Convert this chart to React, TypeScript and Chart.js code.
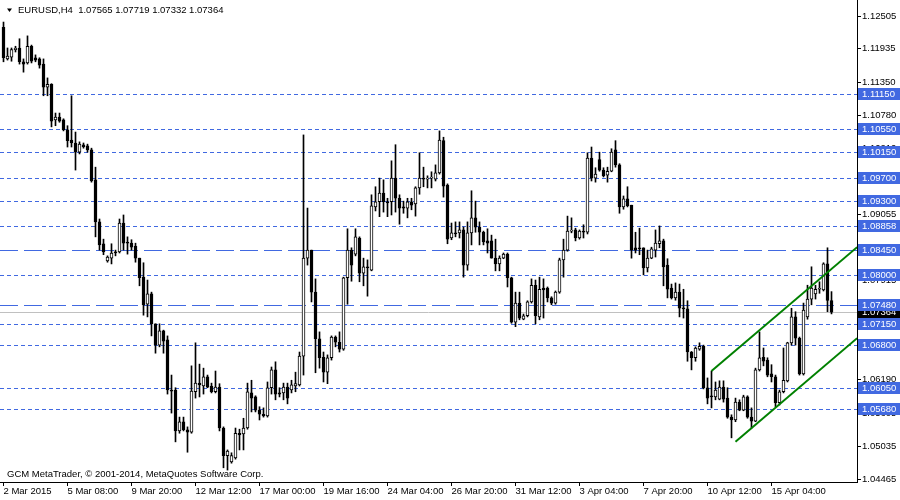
import React, { useEffect, useRef } from "react";
import { Chart, registerables } from "chart.js";

Chart.register(...registerables);

// ---- EURUSD H4 candles (open / high / low / close), bar index 0..207 ----
const opens = [
  1.1231, 1.1176, 1.1179, 1.1192, 1.1195, 1.1171, 1.1169, 1.1198, 1.1178, 1.1176,
  1.1167, 1.1127, 1.1132, 1.1070, 1.1075, 1.1070, 1.1053, 1.1035, 1.1030, 1.1014,
  1.1027, 1.1025, 1.1018, 1.0966, 1.0893, 1.0855, 1.0825, 1.0830, 1.0841, 1.0841,
  1.0891, 1.0858, 1.0856, 1.0851, 1.0830, 1.0797, 1.0750, 1.0768, 1.0716, 1.0679,
  1.0704, 1.0688, 1.0601, 1.0601, 1.0530, 1.0546, 1.0532, 1.0528, 1.0598, 1.0613,
  1.0608, 1.0624, 1.0608, 1.0598, 1.0606, 1.0535, 1.0487, 1.0476, 1.0483, 1.0526,
  1.0525, 1.0535, 1.0596, 1.0589, 1.0566, 1.0559, 1.0556, 1.0605, 1.0636, 1.0596,
  1.0596, 1.0606, 1.0601, 1.0608, 1.0610, 1.0660, 1.0830, 1.0844, 1.0771, 1.0690,
  1.0658, 1.0632, 1.0657, 1.0693, 1.0684, 1.0672, 1.0796, 1.0844, 1.0837, 1.0865,
  1.0804, 1.0815, 1.0809, 1.0919, 1.0928, 1.0943, 1.0928, 1.0928, 1.0969, 1.0934,
  1.0919, 1.0917, 1.0928, 1.0924, 1.0952, 1.0969, 1.0967, 1.0969, 1.0967, 1.0978,
  1.1034, 1.0957, 1.0865, 1.0874, 1.0874, 1.0879, 1.0818, 1.0874, 1.0900, 1.0884,
  1.0875, 1.0860, 1.0860, 1.0830, 1.0820, 1.0830, 1.0837, 1.0796, 1.0719, 1.0752,
  1.0724, 1.0730, 1.0754, 1.0783, 1.0728, 1.0778, 1.0778, 1.0761, 1.0752, 1.0771,
  1.0827, 1.0844, 1.0877, 1.0879, 1.0865, 1.0877, 1.0875, 1.1004, 1.0969, 1.1001,
  1.0983, 1.0974, 1.0981, 1.1018, 1.0992, 1.0919, 1.0933, 1.0922, 1.0848, 1.0848,
  1.0848, 1.0813, 1.0830, 1.0844, 1.0855, 1.0860, 1.0818, 1.0778, 1.0761, 1.0771,
  1.0743, 1.0742, 1.0667, 1.0657, 1.0672, 1.0677, 1.0605, 1.0591, 1.0589, 1.0585,
  1.0606, 1.0587, 1.0554, 1.0549, 1.0580, 1.0566, 1.0589, 1.0554, 1.0547, 1.0636,
  1.0658, 1.0653, 1.0629, 1.0624, 1.0579, 1.0598, 1.0617, 1.0683, 1.0728, 1.0691,
  1.0629, 1.0728, 1.0759, 1.0768, 1.0776, 1.0775, 1.0820, 1.07565,
];

const highs = [
  1.1240, 1.1195, 1.1195, 1.1198, 1.1211, 1.1176, 1.1216, 1.1200, 1.1183, 1.1178,
  1.1176, 1.1143, 1.1133, 1.1082, 1.1082, 1.1072, 1.1060, 1.1112, 1.1049, 1.1032,
  1.1030, 1.1028, 1.1021, 1.0988, 1.0898, 1.0863, 1.0834, 1.0855, 1.0844, 1.0898,
  1.0905, 1.0867, 1.0862, 1.0856, 1.0830, 1.0822, 1.0792, 1.0771, 1.0716, 1.0716,
  1.0705, 1.0695, 1.0627, 1.0605, 1.0554, 1.0554, 1.0537, 1.0643, 1.0683, 1.0646,
  1.0639, 1.0627, 1.0613, 1.0634, 1.0612, 1.0537, 1.0497, 1.0492, 1.0535, 1.0533,
  1.0552, 1.0613, 1.0618, 1.0591, 1.0572, 1.0570, 1.0615, 1.0641, 1.0650, 1.0605,
  1.0613, 1.0613, 1.0618, 1.0632, 1.0667, 1.1044, 1.0917, 1.0844, 1.0794, 1.0702,
  1.0667, 1.0662, 1.0695, 1.0695, 1.0702, 1.0797, 1.0881, 1.0848, 1.0881, 1.0867,
  1.0830, 1.0827, 1.0940, 1.0954, 1.0969, 1.0966, 1.0934, 1.0999, 1.1027, 1.0940,
  1.0929, 1.0934, 1.0934, 1.0954, 1.1013, 1.0988, 1.0973, 1.0980, 1.0992, 1.1051,
  1.1040, 1.0959, 1.0891, 1.0893, 1.0893, 1.0884, 1.0893, 1.0947, 1.0929, 1.0893,
  1.0877, 1.0881, 1.0870, 1.0863, 1.0834, 1.0839, 1.0839, 1.0797, 1.0771, 1.0771,
  1.0733, 1.0756, 1.0794, 1.0792, 1.0797, 1.0794, 1.0780, 1.0763, 1.0773, 1.0830,
  1.0863, 1.0903, 1.0900, 1.0882, 1.0879, 1.0888, 1.1013, 1.1023, 1.0987, 1.1014,
  1.0987, 1.0988, 1.1020, 1.1034, 1.0994, 1.0938, 1.0954, 1.0922, 1.0875, 1.0882,
  1.0848, 1.0844, 1.0849, 1.0879, 1.0886, 1.0863, 1.0829, 1.0785, 1.0787, 1.0785,
  1.0776, 1.0756, 1.0668, 1.0676, 1.0683, 1.0679, 1.0622, 1.0634, 1.0615, 1.0617,
  1.0617, 1.0605, 1.0558, 1.0587, 1.0584, 1.0592, 1.0591, 1.0570, 1.0639, 1.0702,
  1.0674, 1.0657, 1.0645, 1.0627, 1.0601, 1.0674, 1.0684, 1.0743, 1.0737, 1.0693,
  1.0752, 1.0783, 1.0815, 1.0783, 1.0789, 1.0822, 1.0848, 1.07719,
];

const lows = [
  1.1171, 1.1174, 1.1172, 1.1188, 1.1167, 1.1153, 1.1167, 1.1169, 1.1171, 1.1160,
  1.1112, 1.1112, 1.1058, 1.1060, 1.1066, 1.1051, 1.1023, 1.1023, 1.0983, 1.1011,
  1.1021, 1.1014, 1.0962, 1.0867, 1.0844, 1.0836, 1.0823, 1.0820, 1.0834, 1.0839,
  1.0844, 1.0837, 1.0844, 1.0823, 1.0782, 1.0731, 1.0728, 1.0695, 1.0665, 1.0676,
  1.0665, 1.0594, 1.0561, 1.0511, 1.0526, 1.0530, 1.0493, 1.0526, 1.0587, 1.0589,
  1.0594, 1.0605, 1.0596, 1.0596, 1.0530, 1.0466, 1.0462, 1.0474, 1.0481, 1.0497,
  1.0497, 1.0533, 1.0563, 1.0563, 1.0549, 1.0554, 1.0554, 1.0594, 1.0584, 1.0589,
  1.0584, 1.0577, 1.0596, 1.0598, 1.0608, 1.0627, 1.0818, 1.0754, 1.0631, 1.0639,
  1.0615, 1.0612, 1.0653, 1.0676, 1.0667, 1.0670, 1.0750, 1.0790, 1.0834, 1.0789,
  1.0782, 1.0764, 1.0808, 1.0912, 1.0902, 1.0910, 1.0902, 1.0905, 1.0910, 1.0889,
  1.0908, 1.0900, 1.0914, 1.0903, 1.0941, 1.0954, 1.0952, 1.0952, 1.0964, 1.0976,
  1.0936, 1.0855, 1.0862, 1.0867, 1.0865, 1.0797, 1.0809, 1.0853, 1.0875, 1.0853,
  1.0853, 1.0839, 1.0830, 1.0808, 1.0808, 1.0829, 1.0780, 1.0717, 1.0711, 1.0723,
  1.0723, 1.0728, 1.0752, 1.0716, 1.0723, 1.0726, 1.0754, 1.0749, 1.0750, 1.0769,
  1.0797, 1.0842, 1.0874, 1.0860, 1.0863, 1.0865, 1.0872, 1.0964, 1.0962, 1.0981,
  1.0971, 1.0962, 1.0980, 1.0988, 1.0908, 1.0915, 1.0919, 1.0830, 1.0839, 1.0836,
  1.0801, 1.0806, 1.0829, 1.0832, 1.0848, 1.0782, 1.0761, 1.0759, 1.0757, 1.0728,
  1.0726, 1.0651, 1.0636, 1.0651, 1.0670, 1.0603, 1.0577, 1.0570, 1.0584, 1.0584,
  1.0580, 1.0552, 1.0518, 1.0546, 1.0565, 1.0565, 1.0552, 1.0535, 1.0546, 1.0634,
  1.0643, 1.0624, 1.0615, 1.0572, 1.0575, 1.0596, 1.0615, 1.0679, 1.0679, 1.0627,
  1.0627, 1.0724, 1.0749, 1.0759, 1.0769, 1.0773, 1.0737, 1.07332,
];

const closes = [
  1.1178, 1.1181, 1.1192, 1.1195, 1.1171, 1.1167, 1.1198, 1.1172, 1.1174, 1.1165,
  1.1127, 1.1132, 1.1068, 1.1075, 1.1068, 1.1053, 1.1034, 1.1030, 1.1014, 1.1028,
  1.1023, 1.1018, 1.0964, 1.0893, 1.0853, 1.0841, 1.0832, 1.0839, 1.0839, 1.0891,
  1.0856, 1.0856, 1.0849, 1.0830, 1.0796, 1.0749, 1.0768, 1.0716, 1.0679, 1.0704,
  1.0686, 1.0601, 1.0599, 1.0530, 1.0546, 1.0532, 1.0528, 1.0599, 1.0613, 1.0610,
  1.0624, 1.0606, 1.0598, 1.0606, 1.0535, 1.0487, 1.0495, 1.0487, 1.0526, 1.0523,
  1.0535, 1.0598, 1.0587, 1.0566, 1.0559, 1.0556, 1.0605, 1.0636, 1.0594, 1.0594,
  1.0606, 1.0587, 1.0610, 1.0612, 1.0660, 1.0830, 1.0844, 1.0771, 1.0690, 1.0657,
  1.0632, 1.0657, 1.0693, 1.0684, 1.0672, 1.0796, 1.0844, 1.0818, 1.0867, 1.0804,
  1.0815, 1.0813, 1.0921, 1.0928, 1.0943, 1.0928, 1.0926, 1.0969, 1.0934, 1.0917,
  1.0917, 1.0928, 1.0922, 1.0952, 1.0969, 1.0967, 1.0969, 1.0970, 1.0978, 1.1035,
  1.0955, 1.0863, 1.0874, 1.0872, 1.0879, 1.0818, 1.0874, 1.0900, 1.0884, 1.0875,
  1.0858, 1.0856, 1.0830, 1.0820, 1.0830, 1.0837, 1.0796, 1.0719, 1.0752, 1.0726,
  1.0730, 1.0754, 1.0783, 1.0730, 1.0776, 1.0775, 1.0761, 1.0752, 1.0771, 1.0827,
  1.0844, 1.0877, 1.0878, 1.0865, 1.0877, 1.0875, 1.1004, 1.0969, 1.0976, 1.0983,
  1.0973, 1.0981, 1.1014, 1.0992, 1.0919, 1.0933, 1.0921, 1.0844, 1.0844, 1.0846,
  1.0813, 1.0830, 1.0846, 1.0856, 1.0860, 1.0815, 1.0776, 1.0761, 1.0771, 1.0743,
  1.0742, 1.0667, 1.0657, 1.0674, 1.0677, 1.0605, 1.0587, 1.0589, 1.0601, 1.0606,
  1.0585, 1.0554, 1.0549, 1.0580, 1.0566, 1.0589, 1.0554, 1.0547, 1.0636, 1.0657,
  1.0651, 1.0627, 1.0624, 1.0579, 1.0598, 1.0618, 1.0683, 1.0728, 1.0691, 1.0629,
  1.0740, 1.0759, 1.0778, 1.0776, 1.0777, 1.0820, 1.07565, 1.07364,
];

// ---- axis labels ----
const dateLabels = [
  "2 Mar 2015", "5 Mar 08:00", "9 Mar 20:00", "12 Mar 12:00", "17 Mar 00:00",
  "19 Mar 16:00", "24 Mar 04:00", "26 Mar 20:00", "31 Mar 12:00", "3 Apr 04:00",
  "7 Apr 20:00", "10 Apr 12:00", "15 Apr 04:00",
];
const dateTickBars = [0, 16, 32, 48, 64, 80, 96, 112, 128, 144, 160, 176, 192];
const priceTicks = [
  1.12505, 1.11935, 1.1135, 1.1078, 1.1021, 1.09625, 1.09055, 1.08485,
  1.07915, 1.07345, 1.06775, 1.0619, 1.05605, 1.05035, 1.04465,
];

// ---- horizontal levels & channel ----
const dottedLevels = [1.1115, 1.1055, 1.1015, 1.097, 1.093, 1.08858, 1.08, 1.0715, 1.068, 1.0605, 1.0568];
const dashedLevels = [1.0845, 1.0748];
const currentPrice = 1.07364;
const channelUpperBars = [177, 213.4];
const channelUpperPrices = [1.0634, 1.0849];
const channelLowerBars = [183, 213.4];
const channelLowerPrices = [1.0511, 1.0691];

const titleText = "EURUSD,H4  1.07565 1.07719 1.07332 1.07364";
const copyrightText = "GCM MetaTrader, \u00a9 2001-2014, MetaQuotes Software Corp.";

const X_MIN = -0.875;
const X_MAX = 213.375;
const Y_MIN = 1.04413;
const Y_MAX = 1.12783;

const FONT_FAMILY = "Tahoma, 'Liberation Sans', Arial, sans-serif";
const FONT_SIZE = 9.5;
const BLUE = "#4169E1";

export default function App() {
  const ref = useRef<HTMLCanvasElement>(null);

  useEffect(() => {
    document.body.style.margin = "0";
    const canvas = ref.current;
    if (!canvas) return;

    const bodies = opens.map((o, i) => ({ x: i, y: [o, closes[i]] }));
    const wicks = opens.map((_o, i) => ({ x: i, y: [lows[i], highs[i]] }));
    const bodyColors = opens.map((o, i) => (closes[i] >= o ? "#ffffff" : "#000000"));

    // horizontal price levels, drawn crisp through the y scale
    const levelLines = {
      id: "levelLines",
      beforeDatasetsDraw(chart: any) {
        const ctx = chart.ctx as CanvasRenderingContext2D;
        const ys = chart.scales.y;
        const area = chart.chartArea;
        const line = (v: number, dash: number[], color: string) => {
          const py = Math.round(ys.getPixelForValue(v)) + 0.5;
          ctx.strokeStyle = color;
          ctx.setLineDash(dash);
          ctx.beginPath();
          ctx.moveTo(area.left, py);
          ctx.lineTo(area.right, py);
          ctx.stroke();
        };
        ctx.save();
        ctx.lineWidth = 1;
        line(currentPrice, [], "#c0c0c0");
        dottedLevels.forEach((v) => line(v, [4, 3], BLUE));
        dashedLevels.forEach((v) => line(v, [18, 6], BLUE));
        ctx.restore();
      },
    };

    const overlay = {
      id: "mtOverlay",
      afterDraw(chart: any) {
        const ctx = chart.ctx as CanvasRenderingContext2D;
        const ys = chart.scales.y;
        const area = chart.chartArea;
        ctx.save();
        ctx.font = `${FONT_SIZE}px ${FONT_FAMILY}`;
        ctx.textBaseline = "middle";
        ctx.textAlign = "left";

        // current price box
        const cp = Math.round(ys.getPixelForValue(currentPrice));
        ctx.fillStyle = "#000000";
        ctx.fillRect(area.right + 1, cp - 6, 900 - area.right, 12);
        ctx.fillStyle = "#ffffff";
        ctx.fillText(currentPrice.toFixed(5), area.right + 5, cp);

        // level boxes
        [...dottedLevels, ...dashedLevels].forEach((v) => {
          const py = Math.round(ys.getPixelForValue(v));
          ctx.fillStyle = BLUE;
          ctx.fillRect(area.right + 1, py - 6, 900 - area.right, 12);
          ctx.fillStyle = "#ffffff";
          ctx.fillText(v.toFixed(5), area.right + 5, py);
        });

        // header
        ctx.fillStyle = "#000000";
        ctx.beginPath();
        ctx.moveTo(7, 8.5);
        ctx.lineTo(12, 8.5);
        ctx.lineTo(9.5, 12);
        ctx.closePath();
        ctx.fill();
        ctx.fillText(titleText, 18, 10);

        // copyright
        ctx.fillText(copyrightText, 7, 474);
        ctx.restore();
      },
    };

    const tickFont = { family: FONT_FAMILY, size: FONT_SIZE };

    const chart = new Chart(canvas, {
      type: "bar",
      data: {
        datasets: [
          {
            type: "line",
            data: channelUpperBars.map((b, i) => ({ x: b, y: channelUpperPrices[i] })),
            borderColor: "#008000",
            borderWidth: 2,
            pointRadius: 0,
            fill: false,
            order: 0,
          },
          {
            type: "line",
            data: channelLowerBars.map((b, i) => ({ x: b, y: channelLowerPrices[i] })),
            borderColor: "#008000",
            borderWidth: 2,
            pointRadius: 0,
            fill: false,
            order: 0,
          },
          {
            type: "bar",
            data: bodies as any,
            backgroundColor: bodyColors,
            borderColor: "#000000",
            borderWidth: 1,
            borderSkipped: false,
            barThickness: 3,
            minBarLength: 1,
            grouped: false,
            order: 2,
          },
          {
            type: "bar",
            data: wicks as any,
            backgroundColor: "#000000",
            borderWidth: 0,
            barThickness: 1,
            grouped: false,
            order: 3,
          },
        ] as any,
      },
      options: {
        responsive: false,
        animation: false,
        devicePixelRatio: 1,
        events: [],
        layout: { padding: 0 },
        plugins: {
          legend: { display: false },
          tooltip: { enabled: false },
          title: { display: false },
        },
        scales: {
          x: {
            type: "linear",
            position: "bottom",
            min: X_MIN,
            max: X_MAX,
            offset: false,
            grid: {
              display: true,
              drawOnChartArea: false,
              drawTicks: true,
              tickLength: 4,
              color: "#000000",
              offset: false,
            },
            border: { display: true, color: "#000000", width: 1 },
            ticks: {
              autoSkip: false,
              maxRotation: 0,
              minRotation: 0,
              align: "start",
              padding: 0,
              color: "#000000",
              font: tickFont,
              callback: (_v: any, i: number) => dateLabels[i] ?? "",
            },
            afterBuildTicks: (s: any) => {
              s.ticks = dateTickBars.map((v) => ({ value: v }));
            },
            afterFit: (s: any) => {
              s.height = 18;
              s.paddingLeft = 0;
              s.paddingRight = 0;
              s.paddingTop = 0;
              s.paddingBottom = 0;
            },
          },
          y: {
            type: "linear",
            position: "right",
            min: Y_MIN,
            max: Y_MAX,
            grid: {
              display: true,
              drawOnChartArea: false,
              drawTicks: true,
              tickLength: 4,
              color: "#000000",
            },
            border: { display: true, color: "#000000", width: 1 },
            ticks: {
              autoSkip: false,
              padding: 1,
              color: "#000000",
              font: tickFont,
              callback: (v: any) => Number(v).toFixed(5),
            },
            afterBuildTicks: (s: any) => {
              s.ticks = priceTicks.map((v) => ({ value: v }));
            },
            afterFit: (s: any) => {
              s.width = 43;
              s.paddingLeft = 0;
              s.paddingRight = 0;
              s.paddingTop = 0;
              s.paddingBottom = 0;
            },
          },
        },
      } as any,
      plugins: [levelLines, overlay],
    });

    return () => chart.destroy();
  }, []);

  return (
    <div style={{ width: 900, height: 500 }}>
      <canvas ref={ref} width={900} height={500} style={{ display: "block" }} />
    </div>
  );
}
